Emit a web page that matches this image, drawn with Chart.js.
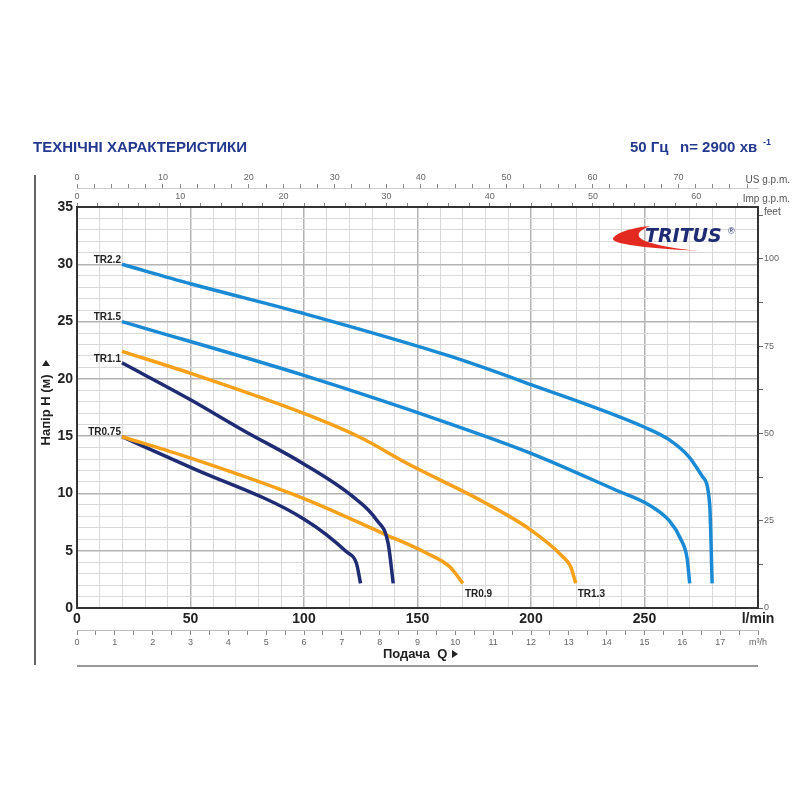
<!DOCTYPE html>
<html>
<head>
<meta charset="utf-8">
<script src="https://cdn.jsdelivr.net/npm/chart.js@4.4.0/dist/chart.umd.min.js"></script>
<style>
  html, body { margin: 0; padding: 0; background: #fff; }
  #wrap { width: 800px; height: 800px; }
</style>
</head>
<body>
<div id="wrap"><canvas id="myChart" width="800" height="800"></canvas></div>
<script>
// flow in l/min, head in m
const tr22Q = [19.8, 50, 100, 164, 200, 249.8, 260.8, 269.6, 275.4, 278.7, 279.8];
const tr22H = [30.0, 28.3, 25.7, 22.0, 19.5, 15.8, 14.7, 13.2, 11.5, 9.1, 2.15];
const tr15Q = [19.8, 100, 164, 200, 237.3, 252, 261, 266, 268.8, 269.9];
const tr15H = [25.0, 20.3, 16.1, 13.5, 10.3, 9.0, 7.6, 6.0, 4.3, 2.15];
const tr13Q = [19.8, 49.8, 99.7, 124.6, 146.6, 178.7, 200, 213.9, 217.5, 219.7];
const tr13H = [22.4, 20.5, 17.0, 14.9, 12.5, 9.3, 6.8, 4.5, 3.6, 2.15];
const tr11Q = [19.8, 49.8, 73.3, 99.7, 121.7, 131.9, 137.1, 139.3];
const tr11H = [21.4, 18.2, 15.5, 12.6, 9.7, 7.7, 5.6, 2.15];
const tr09Q = [19.8, 49.8, 99.7, 134.9, 153.9, 164.2, 170];
const tr09H = [14.95, 13.1, 9.57, 6.5, 4.8, 3.6, 2.15];
const tr075Q = [19.8, 49.8, 99.7, 118.7, 123.1, 124.9];
const tr075H = [14.95, 12.3, 7.8, 4.9, 3.9, 2.15];

const curveNames = ['TR2.2', 'TR1.5', 'TR1.3', 'TR1.1', 'TR0.9', 'TR0.75'];

const lminTicks = [0, 50, 100, 150, 200, 250];
const usLabels = [0, 10, 20, 30, 40, 50, 60, 70];
const impLabels = [0, 10, 20, 30, 40, 50, 60];
const feetLabels = [0, 25, 50, 75, 100];
const m3hLabels = [0, 1, 2, 3, 4, 5, 6, 7, 8, 9, 10, 11, 12, 13, 14, 15, 16, 17];

const Q_MAX = 300;
const H_MAX = 35;

const BLUE = '#1a8ad4';
const ORANGE = '#f7a11a';
const NAVY = '#1f2c74';

function pts(q, h) {
  return q.map((v, i) => ({ x: v, y: h[i] }));
}

function line(name, q, h, color) {
  return {
    label: name,
    data: pts(q, h),
    borderColor: color,
    borderWidth: 3.5,
    pointRadius: 0,
    cubicInterpolationMode: 'monotone',
    xAxisID: 'x',
    yAxisID: 'y'
  };
}

function setTicks(list) {
  return (scale) => { scale.ticks = list.map(v => ({ value: v })); };
}
function range(step, max) {
  const out = [];
  for (let v = 0; v <= max + 1e-9; v += step) out.push(Math.round(v * 100) / 100);
  return out;
}

const txt = "'Liberation Sans', Arial, sans-serif";

const decor = {
  id: 'decor',
  afterDraw(chart) {
    const c = chart.ctx;
    const a = chart.chartArea;
    const xs = chart.scales.x, ys = chart.scales.y;
    c.save();
    // frame of the plot
    c.strokeStyle = '#333';
    c.lineWidth = 2;
    c.strokeRect(a.left, a.top, a.right - a.left, a.bottom - a.top);
    // outer lines
    c.strokeStyle = '#666';
    c.lineWidth = 2;
    c.beginPath(); c.moveTo(35, 175); c.lineTo(35, 665); c.stroke();
    c.strokeStyle = '#999';
    c.beginPath(); c.moveTo(77, 666); c.lineTo(758, 666); c.stroke();

    // titles
    c.fillStyle = '#23388f';
    c.font = "bold 15px " + txt;
    c.textBaseline = 'middle';
    c.textAlign = 'left';
    c.fillText('ТЕХНІЧНІ ХАРАКТЕРИСТИКИ', 33, 148);
    c.fillText('50 Гц', 630, 148);
    c.fillText('n= 2900 хв', 680, 148);
    c.font = "bold 9px " + txt;
    c.fillText('-1', 763, 143);

    // axis titles
    c.fillStyle = '#222';
    c.font = "bold 13px " + txt;
    c.save();
    c.translate(46, 410);
    c.rotate(-Math.PI / 2);
    c.textAlign = 'center';
    c.fillText('Напір H (м)', 0, 0);
    c.beginPath(); c.moveTo(44, -4); c.lineTo(50, 0); c.lineTo(44, 4); c.fill();
    c.restore();
    c.textAlign = 'left';
    c.fillText('Подача  Q', 383, 654);
    c.beginPath(); c.moveTo(452, 650); c.lineTo(458, 654); c.lineTo(452, 658); c.fill();

    // unit labels
    c.fillStyle = '#555';
    c.font = "10px " + txt;
    c.textAlign = 'right';
    c.fillText('US g.p.m.', 790, 180);
    c.fillText('Imp g.p.m.', 790, 199);
    c.textAlign = 'left';
    c.fillText('feet', 764, 212);

    // curve labels
    c.fillStyle = '#222';
    c.font = "bold 10px " + txt;
    c.textAlign = 'right';
    const lab = [[tr22Q, tr22H, 'TR2.2'], [tr15Q, tr15H, 'TR1.5'], [tr11Q, tr11H, 'TR1.1'], [tr075Q, tr075H, 'TR0.75']];
    lab.forEach(([q, h, n]) => {
      c.fillText(n, xs.getPixelForValue(q[0]) - 1, ys.getPixelForValue(h[0]) - 4);
    });
    c.textAlign = 'left';
    c.fillText('TR0.9', xs.getPixelForValue(tr09Q[tr09Q.length - 1]) + 2, ys.getPixelForValue(1.2));
    c.fillText('TR1.3', xs.getPixelForValue(tr13Q[tr13Q.length - 1]) + 2, ys.getPixelForValue(1.2));

    // logo
    c.fillStyle = '#e32a20';
    c.beginPath();
    c.moveTo(700, 251);
    c.quadraticCurveTo(603, 246, 614, 237);
    c.quadraticCurveTo(622, 229, 650, 226);
    c.quadraticCurveTo(630, 234, 645, 241);
    c.quadraticCurveTo(665, 248, 700, 251);
    c.fill();
    c.fillStyle = NAVY;
    c.font = "italic bold 19px 'DejaVu Sans', sans-serif";
    c.fillText('TRITUS', 645, 237);
    c.font = "9px " + txt;
    c.fillText('®', 728, 232);
    c.restore();
  }
};

const gridMinor = '#d9d9d9';
const gridMajor = '#b3b3b3';

new Chart(document.getElementById('myChart'), {
  type: 'line',
  data: {
    datasets: [
      line(curveNames[0], tr22Q, tr22H, BLUE),
      line(curveNames[1], tr15Q, tr15H, BLUE),
      line(curveNames[2], tr13Q, tr13H, ORANGE),
      line(curveNames[3], tr11Q, tr11H, NAVY),
      line(curveNames[4], tr09Q, tr09H, ORANGE),
      line(curveNames[5], tr075Q, tr075H, NAVY)
    ]
  },
  options: {
    responsive: false,
    animation: false,
    layout: { padding: { left: 37, right: 0, top: 168, bottom: 145 } },
    plugins: { legend: { display: false }, tooltip: { enabled: false } },
    scales: {
      x: {
        type: 'linear', position: 'bottom', min: 0, max: Q_MAX, weight: 0,
        afterBuildTicks: setTicks(range(10, Q_MAX)),
        afterFit: s => { s.height = 22; },
        grid: {
          color: ctx => (ctx.tick && ctx.tick.value % 50 === 0) ? gridMajor : gridMinor,
          lineWidth: ctx => (ctx.tick && ctx.tick.value % 50 === 0) ? 1.5 : 1,
          drawTicks: false
        },
        border: { display: false },
        ticks: {
          padding: 3, maxRotation: 0, autoSkip: false,
          color: '#222', font: { family: txt, weight: 'bold', size: 14 },
          callback: v => v === 300 ? 'l/min' : (lminTicks.includes(v) ? v : '')
        }
      },
      m3h: {
        type: 'linear', position: 'bottom', min: 0, max: Q_MAX * 0.06, weight: 1,
        afterBuildTicks: setTicks(range(0.5, 18)),
        afterFit: s => { s.height = 25; },
        grid: { drawOnChartArea: false, color: '#888', tickLength: 5 },
        border: { color: '#bbb' },
        ticks: {
          padding: 2, maxRotation: 0, autoSkip: false,
          color: '#666', font: { family: txt, size: 9 },
          callback: v => v === 18 ? 'm³/h' : (m3hLabels.includes(v) ? v : '')
        }
      },
      imp: {
        type: 'linear', position: 'top', min: 0, max: Q_MAX / 4.546, weight: 1,
        afterBuildTicks: setTicks(range(2, 64)),
        afterFit: s => { s.height = 19; },
        grid: { drawOnChartArea: false, color: '#888', tickLength: 4 },
        border: { color: '#ccc' },
        ticks: {
          padding: 1, maxRotation: 0, autoSkip: false,
          color: '#666', font: { family: txt, size: 9 },
          callback: v => impLabels.includes(v) ? v : ''
        }
      },
      us: {
        type: 'linear', position: 'top', min: 0, max: Q_MAX / 3.785, weight: 2,
        afterBuildTicks: setTicks(range(2, 78)),
        afterFit: s => { s.height = 20; },
        grid: { drawOnChartArea: false, color: '#888', tickLength: 4 },
        border: { color: '#ccc' },
        ticks: {
          padding: 1, maxRotation: 0, autoSkip: false,
          color: '#666', font: { family: txt, size: 9 },
          callback: v => usLabels.includes(v) ? v : ''
        }
      },
      y: {
        type: 'linear', position: 'left', min: 0, max: H_MAX,
        afterBuildTicks: setTicks(range(1, H_MAX)),
        afterFit: s => { s.width = 40; },
        grid: {
          color: ctx => (ctx.tick && ctx.tick.value % 5 === 0) ? gridMajor : gridMinor,
          lineWidth: ctx => (ctx.tick && ctx.tick.value % 5 === 0) ? 1.5 : 1,
          drawTicks: false
        },
        border: { display: false },
        ticks: {
          padding: 4, autoSkip: false,
          color: '#222', font: { family: txt, weight: 'bold', size: 14 },
          callback: v => v % 5 === 0 ? v : ''
        }
      },
      feet: {
        type: 'linear', position: 'right', min: 0, max: H_MAX / 0.3048,
        afterBuildTicks: setTicks(range(12.5, 112.5)),
        afterFit: s => { s.width = 42; },
        grid: { drawOnChartArea: false, color: '#666', tickLength: 5 },
        border: { display: false },
        ticks: {
          padding: 1, autoSkip: false,
          color: '#666', font: { family: txt, size: 9 },
          callback: v => feetLabels.includes(v) ? v : ''
        }
      }
    }
  },
  plugins: [decor]
});
</script>
</body>
</html>
